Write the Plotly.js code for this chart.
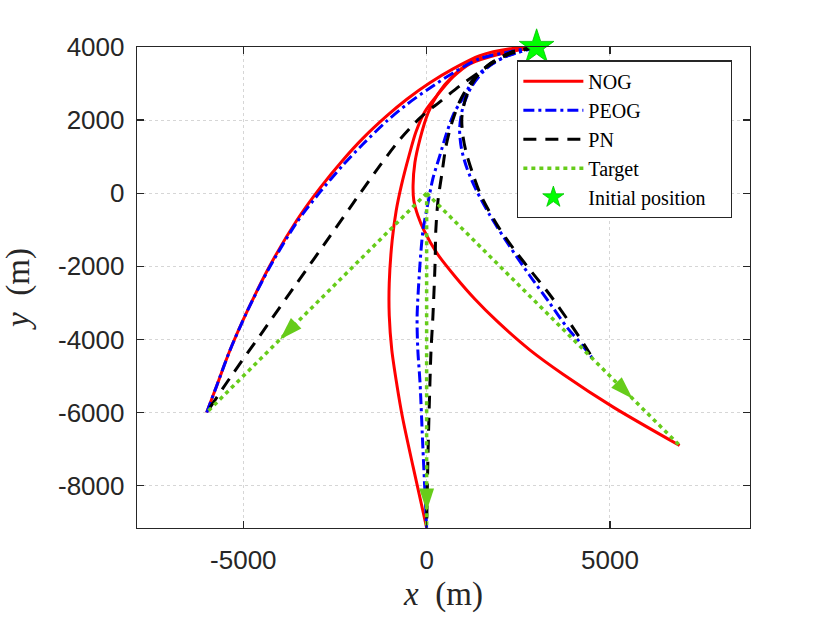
<!DOCTYPE html>
<html>
<head>
<meta charset="utf-8">
<script src="https://cdn.plot.ly/plotly-3.0.1.min.js"></script>
<style>html,body{margin:0;padding:0;background:#fff;}</style>
</head>
<body>
<div id="chart" style="width:828px;height:621px;"></div>
<script>
// ---- Data (metres) ----
// Scenario 1: target heading to (-6000,-6000)
const nog1X = [3000, 2270, 1450, 720, 90, -540, -1080, -1740, -2280, -2910, -3540, -4280, -4900, -5370, -5720, -6000];
const nog1Y = [4000, 3950, 3760, 3400, 3020, 2570, 2120, 1500, 910, 140, -740, -1990, -3240, -4310, -5250, -6000];
const peog1X = [3000, 2270, 1450, 720, 90, -540, -1080, -1740, -2280, -2910, -3540, -4280, -4900, -5370, -5720, -6000];
const peog1Y = [4000, 3870, 3680, 3290, 2880, 2430, 1980, 1340, 770, 30, -795, -2020, -3240, -4310, -5250, -6000];
const pn1X = [3000, 2270, 1560, 910, 360, -180, -730, -1270, -1820, -2640, -3540, -4460, -5370, -6000];
const pn1Y = [4000, 3840, 3400, 2940, 2500, 2060, 1470, 760, -10, -1180, -2460, -3770, -5060, -6000];

// Scenario 2: target heading straight down
const nog2X = [3000, 2000, 1180, 720, 280, -50, -290, -480, -690, -830, -940, -1020, -1020, -950, -810, -660, -370, 0];
const nog2Y = [4000, 3810, 3540, 3180, 2670, 2230, 1680, 1030, 210, -470, -1290, -2460, -3340, -4290, -5250, -6120, -7480, -9150];
const peog2X = [3000, 2140, 1670, 1290, 1000, 750, 550, 360, 170, 40, -100, -180, -260, -240, -180, -100, 0];
const peog2Y = [4000, 3730, 3460, 3130, 2610, 2200, 1660, 1030, 400, -250, -1020, -1920, -3390, -4290, -5190, -7020, -9150];
const pn2X = [3000, 2270, 1730, 1240, 910, 690, 530, 420, 310, 250, 230, 170, 120, 90, 40, 0];
const pn2Y = [4000, 3810, 3540, 3080, 2530, 1930, 1300, 560, -200, -1020, -1920, -3390, -4290, -5190, -7020, -9150];

// Scenario 3: target heading to (6900,-6900)
const nog3X = [3000, 2000, 1180, 720, 310, 40, -180, -320, -370, -350, -240, -70, 280, 770, 1320, 1920, 2820, 3720, 5090, 6900];
const nog3Y = [4000, 3840, 3570, 3210, 2720, 2200, 1490, 840, 210, -200, -610, -1020, -1640, -2270, -2900, -3500, -4290, -4950, -5850, -6900];
const peog3X = [3000, 2140, 1650, 1240, 1000, 900, 950, 1100, 1360, 1730, 2250, 2810, 3340, 3830, 4240, 4550];
const peog3Y = [4000, 3730, 3430, 2940, 2390, 1770, 1220, 680, 70, -610, -1430, -2250, -2980, -3670, -4150, -4550];
const pn3X = [3000, 2270, 1730, 1320, 1070, 960, 990, 1080, 1250, 1480, 1930, 2410, 2880, 3370, 3860, 4310, 4550];
const pn3Y = [4000, 3840, 3540, 3130, 2610, 2060, 1570, 1110, 560, -60, -880, -1570, -2170, -2790, -3480, -4160, -4550];

// Targets
const target1X = [0, -6000], target1Y = [0, -6000];
const target2X = [0, 0],     target2Y = [0, -9150];
const target3X = [0, 6900],  target3Y = [0, -6900];
const arrowTipX = [-4000, 0, 5620];
const arrowTipY = [-4000, -8700, -5620];

const initX = [3000], initY = [4000];

const xTicks = [-5000, 0, 5000];
const yTicks = [-8000, -6000, -4000, -2000, 0, 2000, 4000];

// ---- Styles ----
const RED = '#FF0000', BLUE = '#0000FF', BLACK = '#000000', GREEN = '#66CC1A';
const LW = 3;

function path(x, y, name, color, dash, show, group) {
  return {
    type: 'scatter', mode: 'lines', x: x, y: y, name: name,
    legendgroup: group, showlegend: show, hoverinfo: 'skip',
    line: {color: color, width: LW, dash: dash, shape: 'spline', smoothing: 0.8}
  };
}

const traces = [];
[[nog1X, nog1Y], [nog2X, nog2Y], [nog3X, nog3Y]].forEach((p, i) =>
  traces.push(path(p[0], p[1], 'NOG', RED, 'solid', i === 0, 'nog')));
[[peog1X, peog1Y], [peog2X, peog2Y], [peog3X, peog3Y]].forEach((p, i) =>
  traces.push(path(p[0], p[1], 'PEOG', BLUE, '11px,4px,3px,4px', i === 0, 'peog')));
[[pn1X, pn1Y], [pn2X, pn2Y], [pn3X, pn3Y]].forEach((p, i) =>
  traces.push(path(p[0], p[1], 'PN', BLACK, '13px,9px', i === 0, 'pn')));
[[target1X, target1Y], [target2X, target2Y], [target3X, target3Y]].forEach((p, i) => {
  traces.push({
    type: 'scatter', mode: 'lines', x: p[0], y: p[1], name: 'Target',
    legendgroup: 'target', showlegend: i === 0, hoverinfo: 'skip',
    line: {color: GREEN, width: 3.5, dash: '4px,4px'}
  });
  traces.push({
    type: 'scatter', mode: 'markers', x: [p[0][0], arrowTipX[i]], y: [p[1][0], arrowTipY[i]],
    showlegend: false, hoverinfo: 'skip', legendgroup: 'target',
    marker: {symbol: 'arrow', size: [0, 24], opacity: 1, angleref: 'previous', color: GREEN, line: {width: 0}}
  });
});
traces.push({
  type: 'scatter', mode: 'markers', x: initX, y: initY, name: 'Initial position&nbsp;&nbsp;&nbsp;&nbsp;',
  cliponaxis: false, hoverinfo: 'skip',
  marker: {symbol: 'star', size: 26, color: '#00FF00', line: {color: '#00C000', width: 0.8}}
});

const axisCommon = {
  showline: true, linecolor: '#262626', linewidth: 1.3, mirror: 'ticks',
  ticks: 'inside', ticklen: 7, tickwidth: 1.3, tickcolor: '#262626',
  showgrid: true, gridcolor: '#d6d6d6', griddash: 'dot', gridwidth: 1,
  zeroline: false, automargin: false,
  tickfont: {family: 'Liberation Sans, Arial, sans-serif', size: 26, color: '#262626'}
};
const titleFont = {family: 'Liberation Serif, Times New Roman, serif', size: 33, color: '#262626'};

const layout = {
  width: 828, height: 621,
  margin: {l: 137, r: 78, t: 47, b: 93},
  paper_bgcolor: '#ffffff', plot_bgcolor: '#ffffff',
  showlegend: true,
  xaxis: Object.assign({}, axisCommon, {
    range: [-7900, 8820], tickvals: xTicks, ticktext: xTicks.map(String),
    ticklabelstandoff: 8,
    title: {text: '<i>x</i>&nbsp;&nbsp;(m)', standoff: 8, font: titleFont}
  }),
  yaxis: Object.assign({}, axisCommon, {
    range: [-9157, 4000], tickvals: yTicks, ticktext: yTicks.map(String),
    ticklabelstandoff: 6,
    title: {text: '<i>y</i>&nbsp;&nbsp;(m)', standoff: 20, font: titleFont}
  }),
  legend: {
    x: 0.62, y: 0.972, xanchor: 'left', yanchor: 'top',
    bgcolor: '#ffffff', bordercolor: '#262626', borderwidth: 1.3,
    font: {family: 'Liberation Serif, Times New Roman, serif', size: 20, color: '#000000'},
    itemwidth: 60, tracegroupgap: 0
  }
};

Plotly.newPlot('chart', traces, layout, {displayModeBar: false, staticPlot: true});
</script>
</body>
</html>
